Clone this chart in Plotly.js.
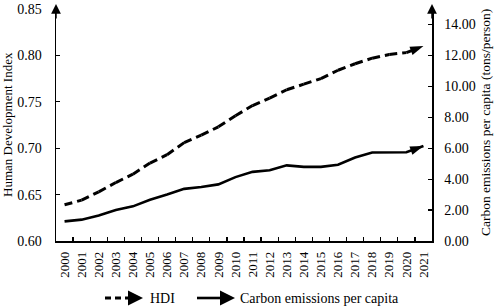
<!DOCTYPE html>
<html>
<head>
<meta charset="utf-8">
<script src="https://cdn.plot.ly/plotly-3.0.1.min.js"></script>
<style>html,body{margin:0;padding:0;background:#fff;}#chart{width:498px;height:307px;}</style>
</head>
<body>
<div id="chart"></div>
<script>
const years = ['2000','2001','2002','2003','2004','2005','2006','2007','2008','2009','2010','2011','2012','2013','2014','2015','2016','2017','2018','2019','2020','2021'];
const hdi = [0.639,0.644,0.653,0.663,0.672,0.684,0.693,0.706,0.714,0.723,0.735,0.746,0.754,0.763,0.769,0.775,0.784,0.791,0.797,0.801,0.803,0.810];
const carbon = [1.27,1.38,1.65,2.01,2.24,2.67,3.00,3.37,3.49,3.66,4.13,4.47,4.57,4.89,4.79,4.79,4.93,5.40,5.72,5.74,5.74,6.14];
const leftTicks = [0.60,0.65,0.70,0.75,0.80,0.85];
const rightTicks = [0,2,4,6,8,10,12,14];
const seriesNames = ['HDI','Carbon emissions per capita'];

const FONT = 'Liberation Serif, Times New Roman, serif';
const lastArrow = arr => arr.map((v,i)=> i===arr.length-1 ? 14 : 0);

const traces = [
  {x: years, y: hdi, name: seriesNames[0], type:'scatter', mode:'lines+markers', yaxis:'y',
   line:{color:'#000', width:3, dash:'8px,5px'},
   marker:{symbol:'arrow', angleref:'previous', size:lastArrow(hdi), color:'#000', opacity:1, line:{width:0}},
   showlegend:false, hoverinfo:'skip'},
  {x: years, y: carbon, name: seriesNames[1], type:'scatter', mode:'lines+markers', yaxis:'y2',
   line:{color:'#000', width:2.6},
   marker:{symbol:'arrow', angleref:'previous', size:lastArrow(carbon), color:'#000', opacity:1, line:{width:0}},
   showlegend:false, hoverinfo:'skip'}
];

// pixel helpers for the manual legend (plot area: x 56..432, y 9..241)
const L=56, R=432, T=9, B=241;
const px = v => (v-L)/(R-L);
const py = v => (B-v)/(B-T);
const legY = 298;

const layout = {
  width:498, height:307,
  margin:{l:56, r:66, t:9, b:66},
  paper_bgcolor:'#fff', plot_bgcolor:'#fff',
  font:{family:FONT, size:14, color:'#000'},
  showlegend:false,
  xaxis:{type:'category', range:[-0.5,21.5], tickson:'boundaries', ticks:'inside', ticklen:4, tickwidth:1.2,
         tickcolor:'#000', showline:true, linecolor:'#000', linewidth:1.5, tickangle:-90, ticklabelstandoff:4,
         tickfont:{family:FONT, size:13}, showgrid:false, zeroline:false, fixedrange:true},
  yaxis:{range:[0.6,0.85], tickvals:leftTicks, tickformat:'.2f', ticks:'inside', ticklen:4, tickwidth:1.2,
         tickcolor:'#000', showline:true, linecolor:'#000', linewidth:1.5, showgrid:false, zeroline:false,
         tickfont:{family:FONT, size:14}, ticklabelstandoff:10},
  yaxis2:{range:[0,15], overlaying:'y', side:'right', tickvals:rightTicks, tickformat:'.2f', ticks:'inside',
         ticklen:4, tickwidth:1.2, tickcolor:'#000', showline:true, linecolor:'#000', linewidth:1.5,
         showgrid:false, zeroline:false, tickfont:{family:FONT, size:14}, ticklabelstandoff:8},
  shapes:[
    {type:'line', xref:'paper', yref:'paper', x0:px(105), x1:px(134), y0:py(legY), y1:py(legY),
     line:{color:'#000', width:3, dash:'6px,4px'}},
    {type:'line', xref:'paper', yref:'paper', x0:px(197), x1:px(226), y0:py(legY), y1:py(legY),
     line:{color:'#000', width:2.6}}
  ],
  annotations:[
    {xref:'paper', yref:'paper', x:px(7), y:0.5, textangle:-90, text:'Human Development Index', showarrow:false,
     xanchor:'center', yanchor:'middle', font:{family:FONT, size:13}},
    {xref:'paper', yref:'paper', x:px(485), y:py(123), textangle:-90, text:'Carbon emissions per capita (tons/person)', showarrow:false,
     xanchor:'center', yanchor:'middle', font:{family:FONT, size:13.5}},
    {xref:'paper', yref:'paper', x:0, y:py(4), ax:0, ay:16, text:'', showarrow:true, arrowhead:2, arrowsize:1.3, arrowwidth:1.5, arrowcolor:'#000'},
    {xref:'paper', yref:'paper', x:1, y:py(4), ax:0, ay:16, text:'', showarrow:true, arrowhead:2, arrowsize:1.3, arrowwidth:1.5, arrowcolor:'#000'},
    {xref:'paper', yref:'paper', x:px(143), y:py(legY), ax:-10, ay:0, text:'', showarrow:true, arrowhead:2, arrowsize:1.2, arrowwidth:2.5, arrowcolor:'#000'},
    {xref:'paper', yref:'paper', x:px(235), y:py(legY), ax:-12, ay:0, text:'', showarrow:true, arrowhead:2, arrowsize:1.2, arrowwidth:2.5, arrowcolor:'#000'},
    {xref:'paper', yref:'paper', x:px(148), y:py(legY), xanchor:'left', yanchor:'middle', text:seriesNames[0], showarrow:false, font:{family:FONT, size:14}},
    {xref:'paper', yref:'paper', x:px(238), y:py(legY), xanchor:'left', yanchor:'middle', text:seriesNames[1], showarrow:false, font:{family:FONT, size:14}}
  ]
};

Plotly.newPlot('chart', traces, layout, {displayModeBar:false, staticPlot:true});
</script>
</body>
</html>
